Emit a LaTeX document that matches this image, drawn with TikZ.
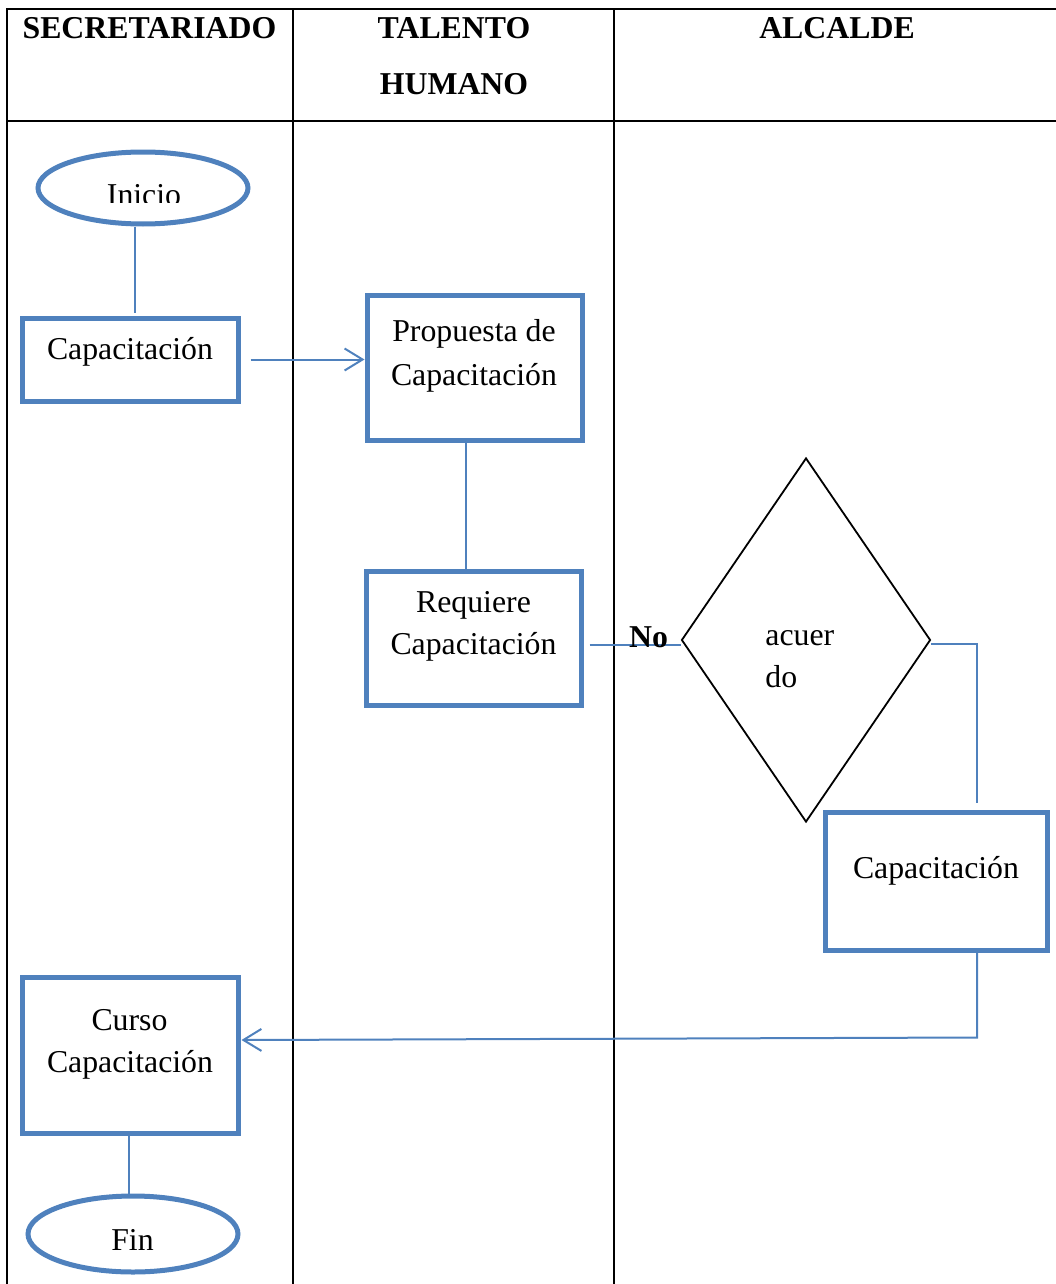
\documentclass[tikz,border=0pt]{standalone}
\usepackage{fontspec}
\setmainfont{Liberation Serif}
\usetikzlibrary{arrows.meta,shapes.geometric,calc}
\definecolor{flowblue}{HTML}{4F81BD}

\begin{document}
\begin{tikzpicture}[x=0.5pt,y=-0.5pt,
  every node/.style={font=\fontsize{15.9}{21.5}\selectfont,inner sep=0pt},
  head/.style={anchor=base,font=\fontsize{15.9}{21.5}\selectfont\bfseries},
  txt/.style={anchor=base},
  grid/.style={line width=1.3pt,line cap=rect},
  box/.style={draw=flowblue,line width=2.5pt,rectangle},
  term/.style={draw=flowblue,line width=2.5pt,ellipse,minimum width=105pt},
  decision/.style={draw=black,line width=0.9pt,diamond,minimum width=124.5pt,minimum height=182pt},
  link/.style={draw=flowblue,line width=1pt},
  arr/.style={link,-{Straight Barb[length=9pt,width=11pt]}}
]
\useasboundingbox (0,0) rectangle (1055,1284);

% swimlane table
\draw[grid] (7,9) -- (1060,9);
\draw[grid] (7,121) -- (1060,121);
\draw[grid] (7,9) -- (7,1290);
\draw[grid] (293,9) -- (293,1290);
\draw[grid] (614,9) -- (614,1290);

% lane headings
\node[head] (h1) at (149.5,39) {SECRETARIADO};
\node[head] (h2a) at (454,39) {TALENTO};
\node[head] (h2b) at (454,95) {HUMANO};
\node[head] (h3) at (837,39) {ALCALDE};

% shapes
\node[term,minimum height=36pt] (inicio) at (143,188) {};
\node[box,minimum width=108pt,minimum height=41.5pt] (cap1) at (130,359.5) {};
\node[box,minimum width=107.5pt,minimum height=72.5pt] (prop) at (474.5,367.5) {};
\node[box,minimum width=107.5pt,minimum height=67pt] (req) at (473.5,638) {};
\node[decision] (dia) at (806,640) {};
\node[box,minimum width=111pt,minimum height=69pt] (cap3) at (936,881) {};
\node[box,minimum width=108pt,minimum height=78pt] (curso) at (130,1055) {};
\node[term,minimum height=38pt] (fin) at (133,1234) {};

% texts
\begin{scope}
  \clip (30,150) rectangle (260,202);
  \node[txt] (tinicio) at (144,205) {Inicio};
\end{scope}
\node[txt] (tcap1) at (130,359) {Capacitación};
\node[txt] (tprop1) at (474,341) {Propuesta de};
\node[txt] (tprop2) at (474,385) {Capacitación};
\node[txt] (treq1) at (473.5,612) {Requiere};
\node[txt] (treq2) at (473.5,654) {Capacitación};
\node[txt,anchor=base west] (tdia1) at (765,645) {acuer};
\node[txt,anchor=base west] (tdia2) at (765,687) {do};
\node[txt] (tcap3) at (936,878) {Capacitación};
\node[txt] (tcurso1) at (129.5,1030) {Curso};
\node[txt] (tcurso2) at (130,1072) {Capacitación};
\node[txt] (tfin) at (132.5,1250) {Fin};

% connectors
\draw[link] ($(inicio.south)+(-8,0)$) -- ($(cap1.north)+(5,-3)$);
\draw[arr] ($(cap1.east)+(10,0)$) -- (prop.west |- cap1.east);
\coordinate (pr) at ($(prop.south)+(-9,0)$);
\draw[link] (pr) -- (pr |- req.north);
\draw[link] ($(req.east)+(6,7)$) -- ($(dia.west)+(0,5)$);
\node[head] (no) at (648.5,647) {No};
\draw[link] ($(dia.east)+(0,4)$) -| ($(cap3.north)+(41,-7)$);
\coordinate (c3) at ($(cap3.south)+(41,0)$);
\coordinate (c4) at ($(cap3.south)+(41,85)$);
\draw[arr] (c3) -- (c4) -- ($(curso.east)+(1,-15)$);
\draw[link] ($(curso.south)+(-1,0)$) -- ($(fin.north)+(-4,0)$);
\end{tikzpicture}
\end{document}
